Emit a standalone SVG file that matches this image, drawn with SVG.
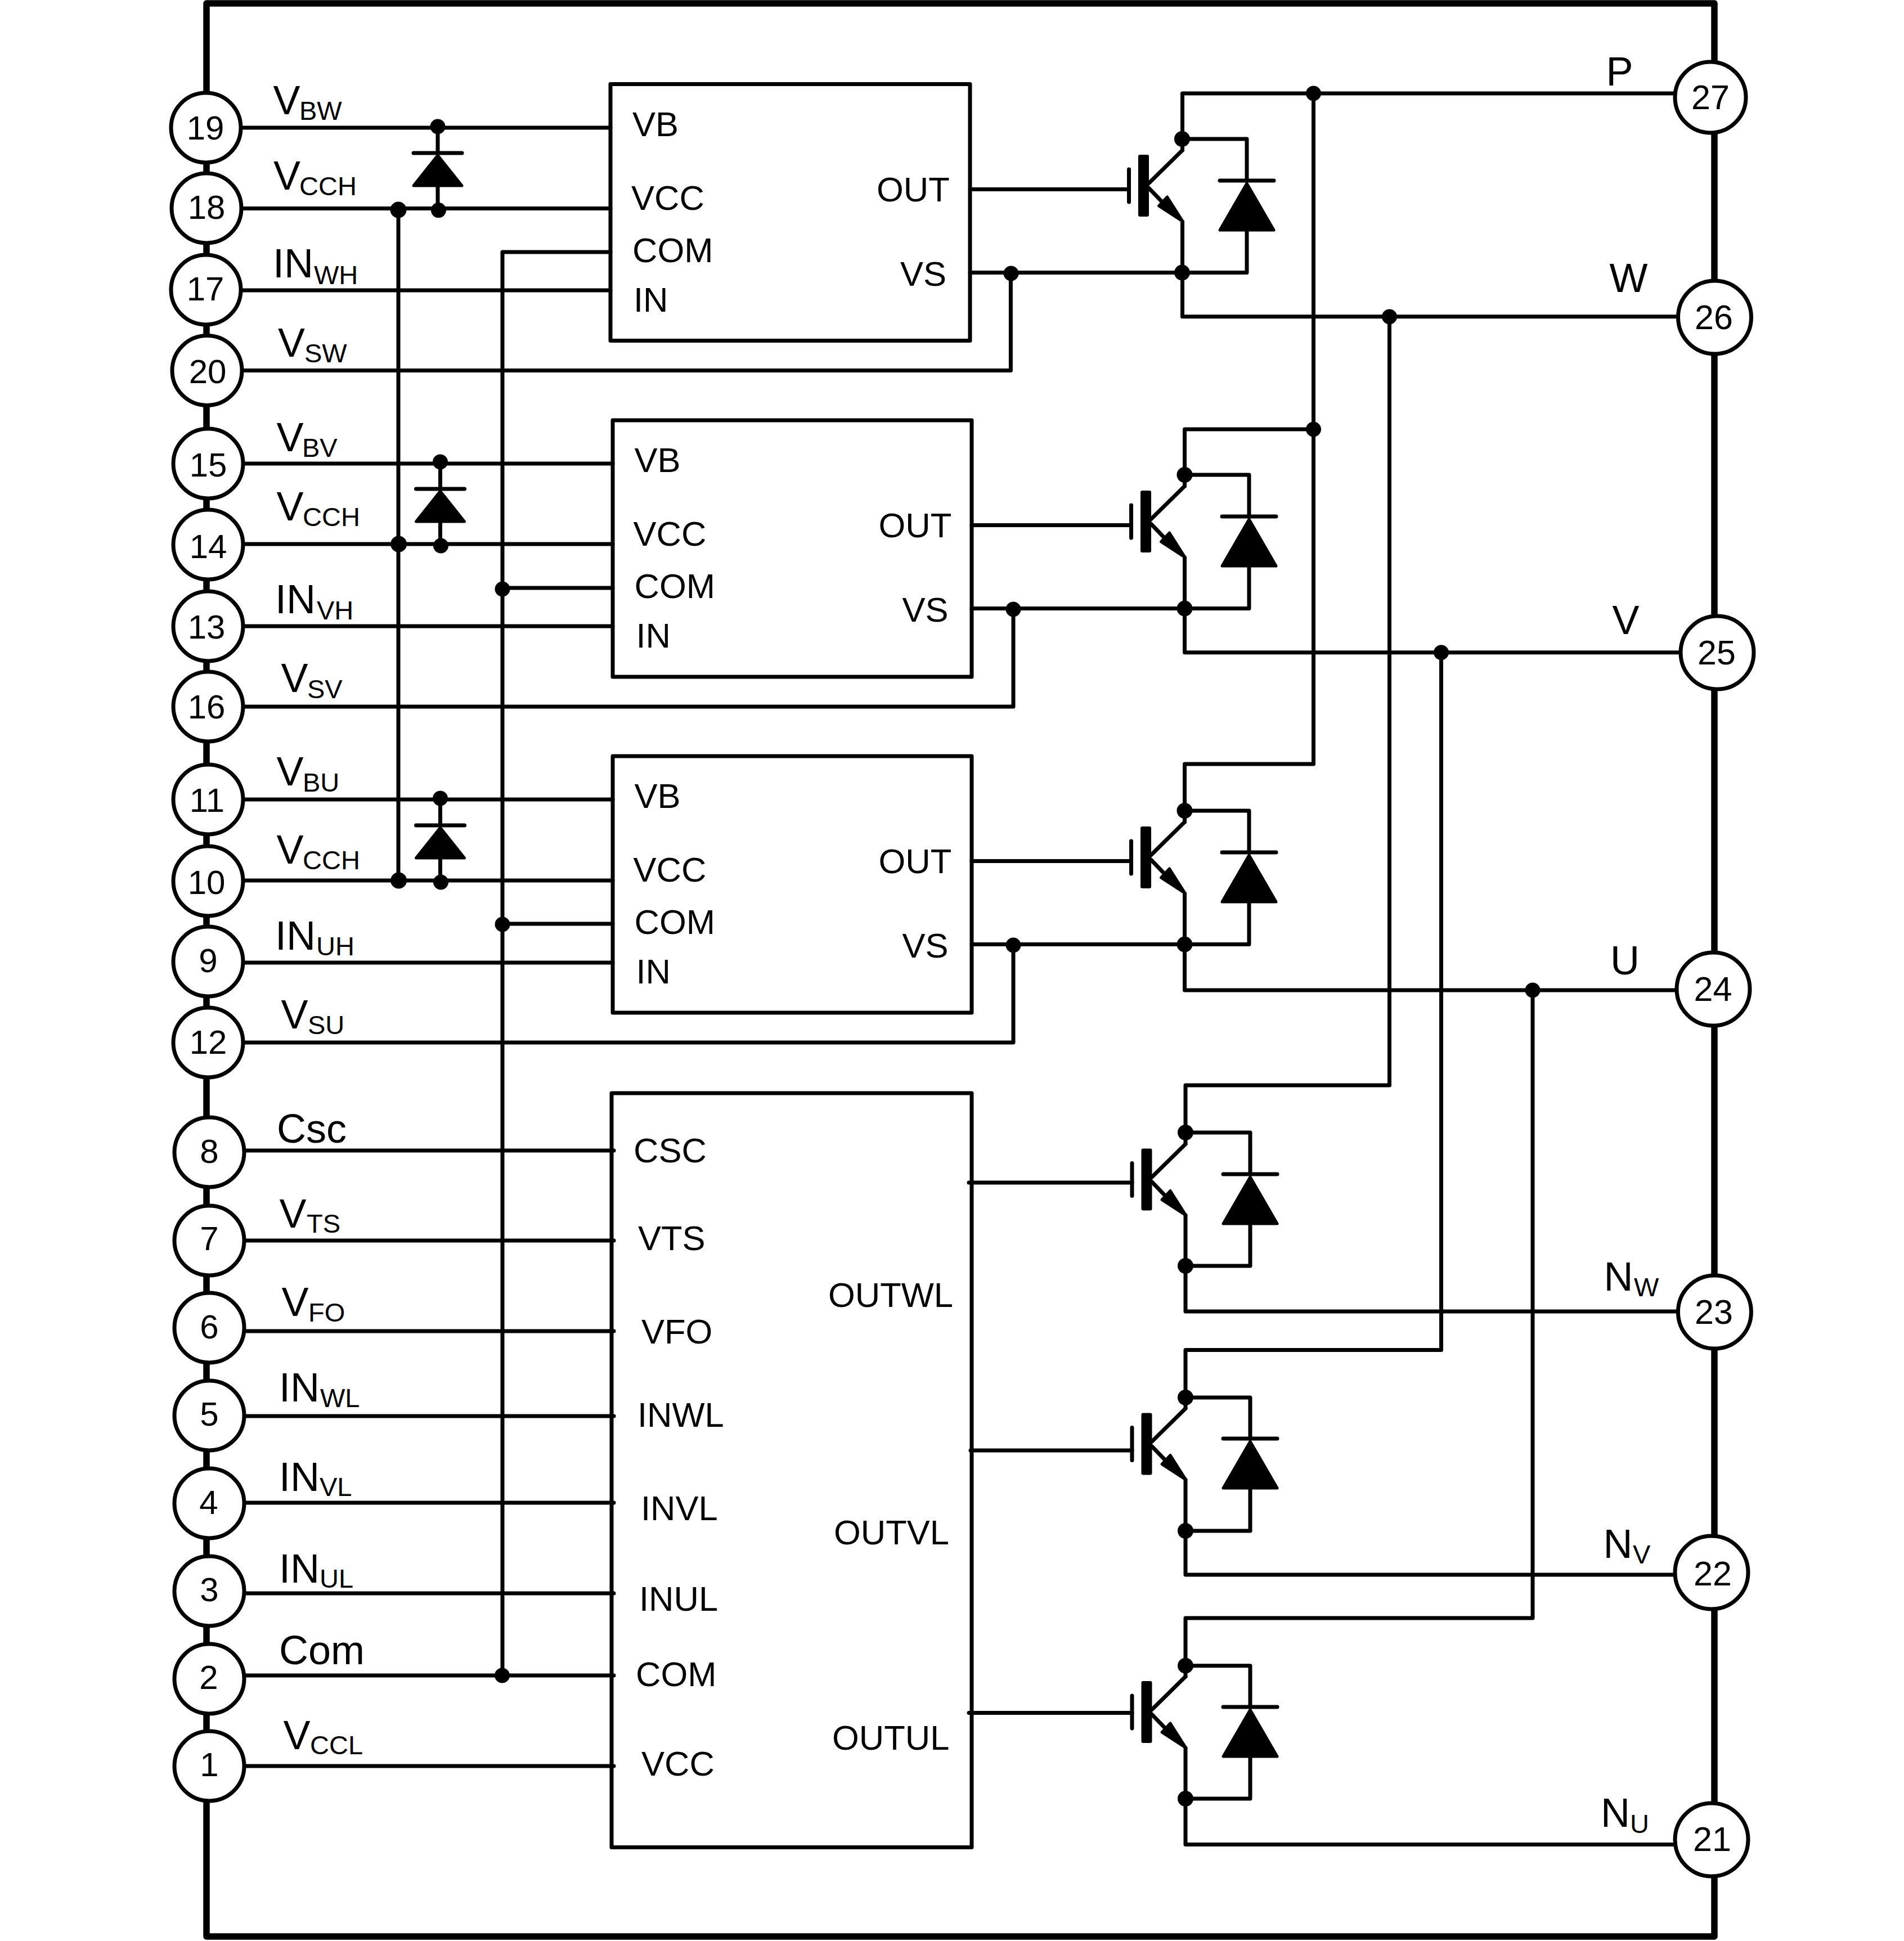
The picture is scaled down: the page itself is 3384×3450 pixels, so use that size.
<svg xmlns="http://www.w3.org/2000/svg" width="3384" height="3450" viewBox="0 0 3384 3450">
<style>
text{font-family:"Liberation Sans",Arial,sans-serif;fill:#000}
.w{fill:none;stroke:#000;stroke-width:7;stroke-linejoin:round;stroke-linecap:round}
.fr{fill:none;stroke:#000;stroke-width:11.5;stroke-linejoin:round}
.box{fill:none;stroke:#000;stroke-width:7;stroke-linejoin:round}
.pin{fill:#fff;stroke:#000;stroke-width:7}
.dot{fill:#000}
.solid{fill:#000;stroke:#000;stroke-width:5;stroke-linejoin:round}
.n{font-size:60px;text-anchor:middle}
.nr{font-size:61px;text-anchor:middle}
.l{font-size:72px}
.s{font-size:47px}
.t{font-size:61.5px}
</style>
<defs>
<g id="igbt">
<path class="w" d="M-95,-29V29"/>
<rect x="-78.5" y="-55" width="19" height="110" rx="3" fill="#000"/>
<path class="w" d="M-60,-4L0,-63M-60,4L-32,33" stroke-linecap="butt"/>
<path class="solid" d="M1,64L-27,20L-42,36Z"/>
</g>
<g id="fwd">
<path class="w" d="M-48,0H48"/>
<path class="solid" d="M0,5L48,88H-48Z"/>
</g>
<g id="bd">
<path class="w" d="M-43,0H43"/>
<path class="solid" d="M0,4L43,58H-43Z"/>
</g>
</defs>
<g id="frame"><rect class="fr" x="367" y="6" width="2680" height="3436"/></g>
<g id="connectors">
<path class="w" d="M366,227H1085M366,370.5H1085M366,516H1085M366,658.5H1796.4V484.6M1724,484.6H2216V411M1085,448H893V2978M708,373V1565"/>
<path class="w" d="M778,225V272M778,329V373M782.5,821V869M782.5,927V970M782.5,1419V1467M782.5,1525V1568"/>
<path class="w" d="M370,824H1089M370,967H1089M370,1113H1089M370,1256H1801V1081.6M1727,1081.6H2220V1008M893,1045H1089"/>
<path class="w" d="M370,1421H1089M370,1565H1089M370,1711H1089M370,1853H1801V1678.6M1727,1678.6H2220V1605M893,1642H1089"/>
<path class="w" d="M372,2045H1091M372,2205H1091M372,2366H1091M372,2517H1091M372,2671H1091M372,2832H1091M372,2978H1091M372,3139H1091"/>
<path class="w" d="M1724,336.5H2004M1727,933.5H2008M1727,1530.5H2008M1722,2102H2012M1725,2578H2012M1722,3044.6H2012"/>
<path class="w" d="M3040,166H2101.5V267M2101.5,394V562.7H3047M2101.5,247H2216V321"/>
<path class="w" d="M2334.5,166V1358H2105.5V1461M2105.5,763H2334.5M2105.5,763V864M2105.5,991V1159.7H3051M2105.5,844H2220V918"/>
<path class="w" d="M2105.5,1588V1760H3045M2105.5,1441H2220V1515"/>
<path class="w" d="M2469.5,563V1929H2107V2033M2107,2160V2331H3047M2107,2013H2222V2087M2107,2250H2222V2176"/>
<path class="w" d="M2561.5,1159.7V2399.4H2107V2503M2107,2630V2799H3042M2107,2484H2222V2557M2107,2721H2222V2646"/>
<path class="w" d="M2724,1760V2876H2107V2980M2107,3107V3278.6H3042M2107,2960.7H2222V3034M2107,3197H2222V3124"/>
<g id="junctions">
<circle class="dot" cx="778" cy="225" r="13.5"/><circle class="dot" cx="779.4" cy="373.6" r="13.5"/><circle class="dot" cx="708" cy="373" r="14.5"/>
<circle class="dot" cx="782.5" cy="821" r="13.5"/><circle class="dot" cx="783.5" cy="970" r="13.5"/><circle class="dot" cx="708.6" cy="967" r="14.5"/>
<circle class="dot" cx="782.5" cy="1419" r="13.5"/><circle class="dot" cx="783.5" cy="1568" r="13.5"/><circle class="dot" cx="708.6" cy="1565" r="14.5"/>
<circle class="dot" cx="893" cy="1047" r="13.5"/><circle class="dot" cx="893" cy="1643" r="13.5"/><circle class="dot" cx="892.5" cy="2978" r="13.5"/>
<circle class="dot" cx="1797" cy="486" r="13.5"/><circle class="dot" cx="1801" cy="1083" r="13.5"/><circle class="dot" cx="1801" cy="1680" r="13.5"/>
<circle class="dot" cx="2101" cy="247" r="14"/><circle class="dot" cx="2101" cy="484.6" r="14"/>
<circle class="dot" cx="2105.5" cy="844" r="14"/><circle class="dot" cx="2105.5" cy="1081.6" r="14"/>
<circle class="dot" cx="2105.5" cy="1441" r="14"/><circle class="dot" cx="2105.5" cy="1678.6" r="14"/>
<circle class="dot" cx="2107" cy="2013" r="14"/><circle class="dot" cx="2107" cy="2250" r="14"/>
<circle class="dot" cx="2107" cy="2484" r="14"/><circle class="dot" cx="2107" cy="2721" r="14"/>
<circle class="dot" cx="2107" cy="2960.7" r="14"/><circle class="dot" cx="2107" cy="3197" r="14"/>
<circle class="dot" cx="2334.5" cy="166" r="13.5"/><circle class="dot" cx="2334.5" cy="763" r="13.5"/>
<circle class="dot" cx="2469.5" cy="563" r="13.5"/><circle class="dot" cx="2561.5" cy="1159.7" r="13.5"/><circle class="dot" cx="2724" cy="1760" r="13.5"/>
</g>
</g>
<g id="bootstrap-diodes">
<use href="#bd" x="778" y="272"/><use href="#bd" x="782.5" y="869"/><use href="#bd" x="782.5" y="1467"/>
</g>
<g id="igbt-wh"><use href="#igbt" x="2101.5" y="330"/><use href="#fwd" x="2216" y="321"/></g>
<g id="igbt-vh"><use href="#igbt" x="2105.5" y="927"/><use href="#fwd" x="2220" y="918"/></g>
<g id="igbt-uh"><use href="#igbt" x="2105.5" y="1524"/><use href="#fwd" x="2220" y="1515"/></g>
<g id="igbt-wl"><use href="#igbt" x="2107" y="2096.5"/><use href="#fwd" x="2222" y="2087"/></g>
<g id="igbt-vl"><use href="#igbt" x="2107" y="2566.5"/><use href="#fwd" x="2222" y="2557"/></g>
<g id="igbt-ul"><use href="#igbt" x="2107" y="3043"/><use href="#fwd" x="2222" y="3034"/></g>
<g id="hvic-w"><rect class="box" x="1085" y="149.5" width="639" height="456"/>
<text class="t" x="1124" y="242">VB</text><text class="t" x="1122" y="373">VCC</text><text class="t" x="1124" y="466">COM</text><text class="t" x="1126" y="554">IN</text><text class="t" x="1558" y="358">OUT</text><text class="t" x="1600" y="507.5">VS</text></g>
<g id="hvic-v"><rect class="box" x="1089" y="747" width="638" height="456"/>
<text class="t" x="1127.5" y="839">VB</text><text class="t" x="1125.5" y="970">VCC</text><text class="t" x="1127.5" y="1063">COM</text><text class="t" x="1130.5" y="1151">IN</text><text class="t" x="1561.5" y="955">OUT</text><text class="t" x="1603.5" y="1104.5">VS</text></g>
<g id="hvic-u"><rect class="box" x="1089" y="1344" width="638" height="456"/>
<text class="t" x="1127.5" y="1436">VB</text><text class="t" x="1125.5" y="1567">VCC</text><text class="t" x="1127.5" y="1660">COM</text><text class="t" x="1130.5" y="1748">IN</text><text class="t" x="1561.5" y="1552">OUT</text><text class="t" x="1603.5" y="1701.5">VS</text></g>
<g id="lvic"><rect class="box" x="1087" y="1943" width="640" height="1340.5"/>
<text class="t" x="1126" y="2065.5">CSC</text><text class="t" x="1134" y="2222">VTS</text><text class="t" x="1140" y="2388">VFO</text><text class="t" x="1133" y="2536">INWL</text><text class="t" x="1139" y="2702">INVL</text><text class="t" x="1136" y="2863">INUL</text><text class="t" x="1130" y="2997">COM</text><text class="t" x="1140" y="3156">VCC</text><text class="t" x="1472" y="2323">OUTWL</text><text class="t" x="1482" y="2745">OUTVL</text><text class="t" x="1479" y="3110">OUTUL</text></g>
<g id="pin-19"><circle class="pin" cx="366" cy="227" r="62"/><text class="n" x="365" y="248">19</text><text class="l" x="485.5" y="203">V<tspan class="s" x="532" y="213">BW</tspan></text></g>
<g id="pin-18"><circle class="pin" cx="367" cy="370" r="62"/><text class="n" x="367" y="389">18</text><text class="l" x="486" y="337">V<tspan class="s" x="532" y="347">CCH</tspan></text></g>
<g id="pin-17"><circle class="pin" cx="366" cy="515" r="62"/><text class="n" x="365" y="534">17</text><text class="l" x="485" y="493">IN<tspan class="s" x="558" y="504.5">WH</tspan></text></g>
<g id="pin-20"><circle class="pin" cx="368" cy="658.5" r="62"/><text class="n" x="369" y="681">20</text><text class="l" x="494" y="634">V<tspan class="s" x="541" y="644">SW</tspan></text></g>
<g id="pin-15"><circle class="pin" cx="370" cy="824" r="62"/><text class="n" x="370" y="847">15</text><text class="l" x="491.5" y="802">V<tspan class="s" x="537" y="812">BV</tspan></text></g>
<g id="pin-14"><circle class="pin" cx="370" cy="968" r="62"/><text class="n" x="370" y="992">14</text><text class="l" x="491.5" y="924.5">V<tspan class="s" x="538" y="935">CCH</tspan></text></g>
<g id="pin-13"><circle class="pin" cx="370" cy="1113" r="62"/><text class="n" x="367" y="1134.7">13</text><text class="l" x="489" y="1090">IN<tspan class="s" x="563" y="1100.5">VH</tspan></text></g>
<g id="pin-16"><circle class="pin" cx="370" cy="1256" r="62"/><text class="n" x="367" y="1276.5">16</text><text class="l" x="499.5" y="1230">V<tspan class="s" x="546" y="1241">SV</tspan></text></g>
<g id="pin-11"><circle class="pin" cx="370" cy="1421" r="62"/><text class="n" x="368" y="1443">11</text><text class="l" x="491.5" y="1396">V<tspan class="s" x="538" y="1406.6">BU</tspan></text></g>
<g id="pin-10"><circle class="pin" cx="370" cy="1566" r="62"/><text class="n" x="367" y="1588.8">10</text><text class="l" x="491.5" y="1534.7">V<tspan class="s" x="538" y="1545">CCH</tspan></text></g>
<g id="pin-9"><circle class="pin" cx="370" cy="1709" r="62"/><text class="n" x="370" y="1727.5">9</text><text class="l" x="489" y="1688">IN<tspan class="s" x="562" y="1698">UH</tspan></text></g>
<g id="pin-12"><circle class="pin" cx="370" cy="1853" r="62"/><text class="n" x="370" y="1873">12</text><text class="l" x="499.5" y="1827.5">V<tspan class="s" x="547" y="1838">SU</tspan></text></g>
<g id="pin-8"><circle class="pin" cx="372" cy="2048" r="62"/><text class="n" x="372" y="2067">8</text><text class="l" x="492" y="2031">Csc</text></g>
<g id="pin-7"><circle class="pin" cx="372" cy="2205" r="62"/><text class="n" x="372" y="2222">7</text><text class="l" x="496.5" y="2182">V<tspan class="s" x="545" y="2191.4">TS</tspan></text></g>
<g id="pin-6"><circle class="pin" cx="372" cy="2360" r="62"/><text class="n" x="372" y="2378.7">6</text><text class="l" x="500.5" y="2339.4">V<tspan class="s" x="548" y="2348.6">FO</tspan></text></g>
<g id="pin-5"><circle class="pin" cx="372" cy="2516" r="62"/><text class="n" x="372" y="2534">5</text><text class="l" x="496" y="2491">IN<tspan class="s" x="569" y="2501">WL</tspan></text></g>
<g id="pin-4"><circle class="pin" cx="372" cy="2672" r="62"/><text class="n" x="371" y="2691.4">4</text><text class="l" x="496" y="2649.6">IN<tspan class="s" x="568" y="2659">VL</tspan></text></g>
<g id="pin-3"><circle class="pin" cx="372" cy="2828" r="62"/><text class="n" x="372" y="2845.5">3</text><text class="l" x="496" y="2813">IN<tspan class="s" x="568" y="2822">UL</tspan></text></g>
<g id="pin-2"><circle class="pin" cx="372" cy="2984" r="62"/><text class="n" x="371" y="3002">2</text><text class="l" x="496" y="2957.5">Com</text></g>
<g id="pin-1"><circle class="pin" cx="372" cy="3139" r="62"/><text class="n" x="372" y="3157">1</text><text class="l" x="503.5" y="3109">V<tspan class="s" x="551" y="3118">CCL</tspan></text></g>
<g id="pin-27"><circle class="pin" cx="3040" cy="173" r="63"/><text class="nr" x="3040" y="194">27</text><text class="l" x="2854.5" y="152">P</text></g>
<g id="pin-26"><circle class="pin" cx="3047.5" cy="564" r="65"/><text class="nr" x="3046" y="585">26</text><text class="l" x="2860.5" y="519">W</text></g>
<g id="pin-25"><circle class="pin" cx="3052" cy="1160" r="65"/><text class="nr" x="3051" y="1181">25</text><text class="l" x="2865.5" y="1127">V</text></g>
<g id="pin-24"><circle class="pin" cx="3045" cy="1758" r="65"/><text class="nr" x="3044.5" y="1779">24</text><text class="l" x="2862" y="1731.5">U</text></g>
<g id="pin-23"><circle class="pin" cx="3047.4" cy="2332" r="65"/><text class="nr" x="3046" y="2353">23</text><text class="l" x="2850.6" y="2294">N<tspan class="s" x="2904" y="2304">W</tspan></text></g>
<g id="pin-22"><circle class="pin" cx="3042" cy="2795" r="65"/><text class="nr" x="3044" y="2818">22</text><text class="l" x="2849.6" y="2769">N<tspan class="s" x="2902" y="2778.6">V</tspan></text></g>
<g id="pin-21"><circle class="pin" cx="3042" cy="3270" r="65"/><text class="nr" x="3043" y="3289.5">21</text><text class="l" x="2845" y="3247">N<tspan class="s" x="2897" y="3258">U</tspan></text></g>
</svg>
